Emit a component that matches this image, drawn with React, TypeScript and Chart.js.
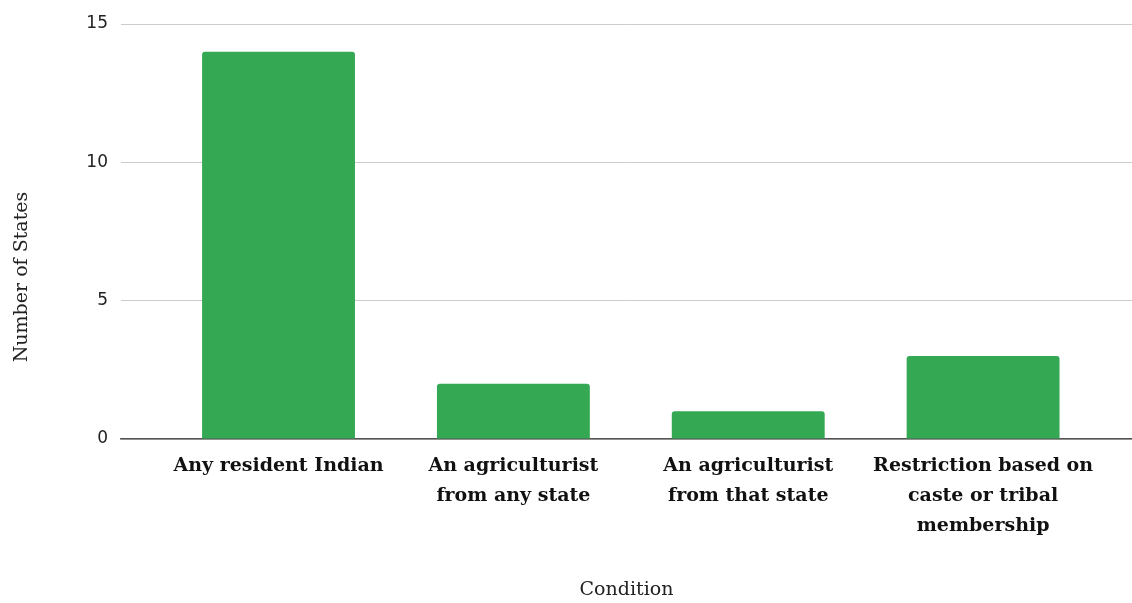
import React, { useEffect, useRef } from "react";
import { Chart, registerables } from "chart.js";

Chart.register(...registerables);

const categories: string[][] = [
  ["Any resident Indian"],
  ["An agriculturist", "from any state"],
  ["An agriculturist", "from that state"],
  ["Restriction based on", "caste or tribal", "membership"],
];
const values: number[] = [14, 2, 1, 3];
const yTicks: number[] = [0, 5, 10, 15];
const xTitle = "Condition";
const yTitle = "Number of States";

const yTitlePlugin = {
  id: "yTitleText",
  afterDraw(chart: any) {
    const ctx = chart.ctx;
    ctx.save();
    ctx.translate(22, 277);
    ctx.rotate(-Math.PI / 2);
    ctx.textAlign = "center";
    ctx.textBaseline = "middle";
    ctx.fillStyle = "#222";
    ctx.font = "19px 'DejaVu Serif', serif";
    ctx.fillText(yTitle, 0, 0);
    ctx.restore();
  },
};

export default function App() {
  const ref = useRef<HTMLCanvasElement | null>(null);
  useEffect(() => {
    document.body.style.margin = "0";
    const canvas = ref.current;
    if (!canvas) return;
    const chart = new Chart(canvas, {
      type: "bar",
      data: {
        datasets: [
          {
            data: values.map((v, i) => ({ x: i, y: v })),
            backgroundColor: "#34A853",
            borderRadius: { topLeft: 3, topRight: 3, bottomLeft: 0, bottomRight: 0 },
            borderSkipped: "bottom",
            categoryPercentage: 1,
            barPercentage: 0.651,
          },
        ],
      },
      plugins: [yTitlePlugin],
      options: {
        animation: false,
        responsive: false,
        maintainAspectRatio: false,
        layout: { padding: { top: 24, right: 0, bottom: 0, left: 0 } },
        plugins: { legend: { display: false }, tooltip: { enabled: false } },
        scales: {
          x: {
            type: "linear",
            offset: false,
            min: -0.6707,
            max: 3.634,
            grid: { display: false, drawTicks: false, offset: false },
            border: { display: true, color: "#555", width: 1.5 },
            afterBuildTicks: (scale: any) => {
              scale.ticks = categories.map((_, i) => ({ value: i }));
            },
            afterFit: (scale: any) => {
              scale.height = 164;
            },
            ticks: {
              includeBounds: false,
              autoSkip: false,
              maxRotation: 0,
              minRotation: 0,
              padding: 12,
              color: "#111",
              font: { family: "'DejaVu Serif', serif", size: 19, weight: "bold", lineHeight: 1.58 },
              callback: (v: any) => categories[v as number] ?? "",
            },
            title: {
              display: true,
              text: xTitle,
              color: "#222",
              font: { family: "'DejaVu Serif', serif", size: 19 },
              padding: { top: 0, bottom: 2 },
            },
          },
          y: {
            type: "linear",
            min: 0,
            max: 15,
            afterBuildTicks: (scale: any) => {
              scale.ticks = yTicks.map((v) => ({ value: v }));
            },
            afterFit: (scale: any) => {
              scale.width = 121;
            },
            grid: { color: "#cccccc", lineWidth: 1, drawTicks: false },
            border: { display: false },
            ticks: {
              padding: 13,
              color: "#222",
              font: { family: "'DejaVu Sans', sans-serif", size: 17 },
            },
            title: { display: false },
          },
        },
      },
    } as any);
    return () => chart.destroy();
  }, []);
  return (
    <div style={{ width: 1132, height: 603, background: "#fff" }}>
      <canvas ref={ref} width={1132} height={603} style={{ display: "block" }} />
    </div>
  );
}
